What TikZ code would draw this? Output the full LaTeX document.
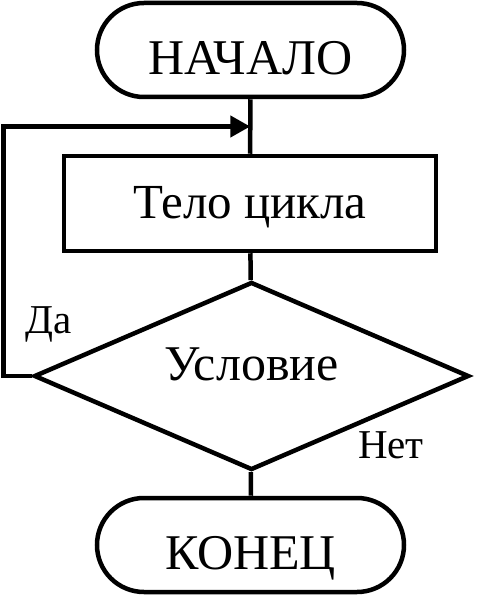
\documentclass[tikz,border=0pt]{standalone}
\usepackage{fontspec}
\setmainfont{Liberation Serif}
\usetikzlibrary{arrows.meta, positioning, shapes.geometric, shapes.misc, calc}

\begin{document}
\begin{tikzpicture}[x=1bp, y=-1bp,
    terminal/.style={draw, rounded rectangle, line width=4.5bp, inner sep=2bp, minimum width=311bp, minimum height=94bp, font=\fontsize{50bp}{58bp}\selectfont},
    process/.style={draw, rectangle, line width=4.5bp, inner sep=2bp, minimum width=372bp, minimum height=95bp, font=\fontsize{49bp}{58bp}\selectfont},
    decision/.style={draw, diamond, aspect=2.3, line width=4.5bp, inner sep=2bp, minimum width=435bp, minimum height=188bp, font=\fontsize{50bp}{58bp}\selectfont},
    txtraise/.style={text height=#1, text depth=0pt},
    line/.style={line width=4.5bp},
    label/.style={anchor=base, font=\fontsize{41bp}{48bp}\selectfont}
]
\useasboundingbox (0,0) rectangle (481,600);

% Start
\node[terminal, txtraise=50bp] (start) at (250.5,50) {НАЧАЛО};

% Loop body
\node[process, txtraise=29bp] (body) at (250,203.5) {Тело цикла};

% Condition
\node[decision, txtraise=8bp] (cond) at (251.5,376) {Условие};

% End
\node[terminal, txtraise=48bp] (end) at (250.5,545) {КОНЕЦ};

% Branch labels
\node[label] (yes) at (49,333) {Да};
\node[label] (no) at (391,458) {Нет};

% Flow lines
\draw[line] (start) -- (body);
\draw[line] (body) -- (cond);
\draw[line] (cond) -- (end);

% Loop back
\coordinate (join) at ($(start.south)!0.5!(body.north)$);
\draw[line, -{Triangle[length=20bp, width=21bp]}] (cond.west) -- ++(-28,0) |- (join);

\end{tikzpicture}
\end{document}
